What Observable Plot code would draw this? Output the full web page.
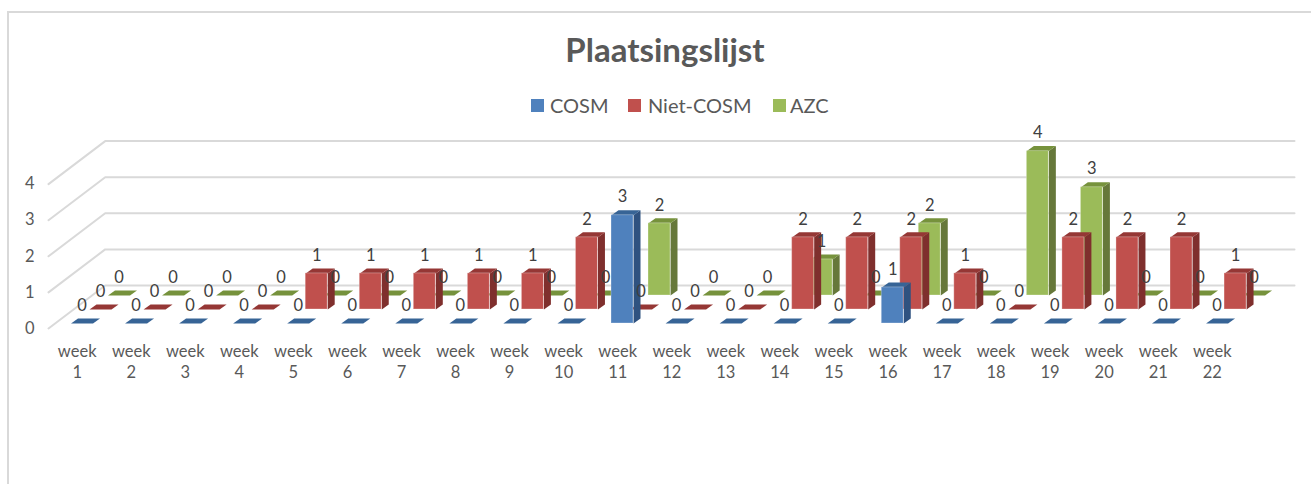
<!DOCTYPE html>
<html>
<head>
<meta charset="utf-8">
<script src="https://cdn.jsdelivr.net/npm/d3@7"></script>
<script src="https://cdn.jsdelivr.net/npm/@observablehq/plot@0.6"></script>
<style>
html,body{margin:0;padding:0;background:#fff;}
#page{position:relative;width:1311px;height:484px;overflow:hidden;font-family:Lato,sans-serif;}
#frame{position:absolute;left:7px;top:11px;width:1304px;height:473px;border-left:2px solid #d9d9d9;border-top:2px solid #d9d9d9;box-sizing:border-box;}
#head{position:relative;height:118px;}
#title{position:absolute;left:0;width:1330px;top:29px;text-align:center;font-size:33px;font-weight:700;color:#595959;line-height:40px;}
.lg{position:absolute;top:92px;font-size:20px;line-height:26px;color:#595959;white-space:nowrap;}
.sw{position:absolute;top:99px;width:13px;height:13px;}
svg{display:block;}
</style>
</head>
<body>
<div id="page">
<div id="frame"></div>
<div id="head">
<div id="title">Plaatsingslijst</div>
<div class="sw" style="left:531px;background:#4f81bd"></div><div class="lg" style="left:550px">COSM</div>
<div class="sw" style="left:628px;background:#c0504d"></div><div class="lg" style="left:648px">Niet-COSM</div>
<div class="sw" style="left:773px;background:#9bbb59"></div><div class="lg" style="left:790px">AZC</div>
</div>
<div id="chart"></div>
</div>
<script>
const weeks = d3.range(1, 23);
const cosm    = [0,0,0,0,0,0,0,0,0,0,3,0,0,0,0,1,0,0,0,0,0,0];
const nietCosm= [0,0,0,0,1,1,1,1,1,2,0,0,0,2,2,2,1,0,2,2,2,1];
const azc     = [0,0,0,0,0,0,0,0,0,0,2,0,0,1,0,2,0,4,3,0,0,0];
const yTicks  = [0,1,2,3,4];

const stepX = 54.05, stepY = 36.1;
const px = p => p / stepX, py = p => p / stepY;
const a = px(-6.2), b = px(15.8), dX = px(7), dY = py(5);

const series = [
  {name:"AZC", values:azc, front:"#9bbb59", side:"#66783a", top:"#76923c", dx:37, dy:-28},
  {name:"Niet-COSM", values:nietCosm, front:"#c0504d", side:"#7f2f2d", top:"#953735", dx:18.5, dy:-14},
  {name:"COSM", values:cosm, front:"#4f81bd", side:"#2f5280", top:"#376496", dx:0, dy:0}
];

const marks = [];
// walls: gridlines run along the floor edge and then across the back wall
const grid = yTicks.flatMap(v => [
  {v, x:1 + px(48 - 76.7), y:v - py(5)},
  {v, x:1 + px(104.7 - 76.7), y:v + py(38)},
  {v, x:1 + px(1294 - 76.7), y:v + py(38)}
]);
marks.push(Plot.line(grid, {x:"x", y:"y", z:"v", stroke:"#d9d9d9", strokeWidth:2}));

for (const s of series) {
  const rows = weeks.map((w, i) => ({w, v:s.values[i]}));
  const side = rows.filter(d => d.v > 0).flatMap(({w, v}) => [
    {w, x:w + b, y:0}, {w, x:w + b + dX, y:dY}, {w, x:w + b + dX, y:v + dY}, {w, x:w + b, y:v}
  ]);
  const top = rows.flatMap(({w, v}) => [
    {w, x:w + a, y:v}, {w, x:w + b, y:v}, {w, x:w + b + dX, y:v + dY}, {w, x:w + a + dX, y:v + dY}
  ]);
  const o = {x:"x", y:"y", z:"w", curve:"linear-closed", dx:s.dx, dy:s.dy};
  marks.push(
    Plot.line(side, {...o, fill:s.side, stroke:"none"}),
    Plot.line(top, {...o, fill:s.top, stroke:"none"}),
    Plot.rect(rows.filter(d => d.v > 0), {
      x1:d => d.w + a, x2:d => d.w + b, y1:0, y2:"v",
      dx:s.dx, dy:s.dy, fill:s.front, stroke:"#fff", strokeOpacity:0.3, strokeWidth:1
    })
  );
}
for (const s of [...series].reverse()) {
  const rows = weeks.map((w, i) => ({w, v:s.values[i]}));
  marks.push(Plot.text(rows, {
    x:d => d.w + (a + b) / 2, y:"v", text:d => String(d.v),
    dx:s.dx, dy:s.dy - 18, fontSize:16.5, fill:"#404040"
  }));
}

marks.push(
  Plot.axisX({
    ticks:weeks, tickFormat:d => `week\n${d}`, tickSize:0, tickPadding:0,
    anchor:"bottom", dy:19, lineHeight:1.27, lineAnchor:"top", fontSize:16.5, fill:"#595959", label:null
  }),
  Plot.axisY({
    ticks:yTicks, tickFormat:d => String(d), tickSize:0, tickPadding:2,
    anchor:"left", dy:5, fontSize:16.5, fill:"#595959", label:null
  })
);

const svgH = 366;
const plot = Plot.plot({
  width:1311, height:svgH,
  marginLeft:36, marginRight:0, marginTop:0, marginBottom:svgH - 205,
  style:{fontFamily:"Lato, sans-serif", background:"transparent", overflow:"visible"},
  x:{type:"linear", domain:[1,22], range:[76.7, 76.7 + 21 * stepX]},
  y:{type:"linear", domain:[0,4], range:[205, 205 - 4 * stepY]},
  marks
});
document.getElementById("chart").appendChild(plot);
</script>
</body>
</html>
